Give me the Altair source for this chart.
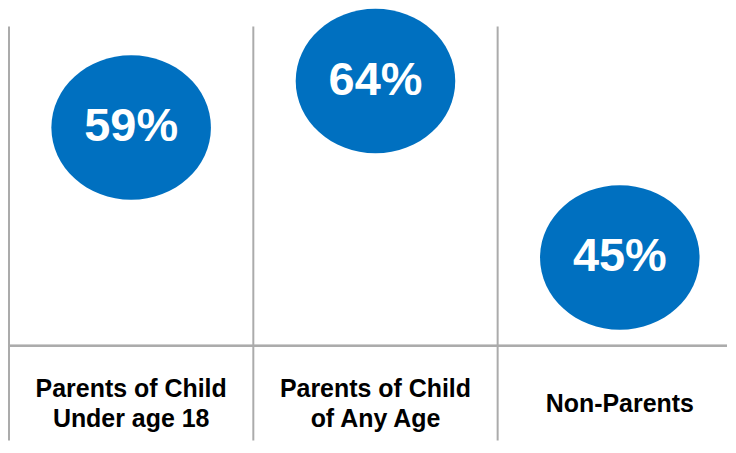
import altair as alt
import pandas as pd

categories = ["Parents of Child\nUnder age 18", "Parents of Child\nof Any Age", "Non-Parents"]
values = [59, 64, 45]
labels = ["59%", "64%", "45%"]

W, H = 720, 432
COL = 245.0

df = pd.DataFrame({
    "cat": categories,
    "value": values,
    "label": labels,
    "center": [i + 0.5 for i in range(len(categories))],
    "edge": [float(i) for i in range(len(categories))],
    "multi": ["\n" in c for c in categories],
})

xs = alt.Scale(domain=[0, W / COL], range=[0, W])
ys = alt.Scale(domain=[25.3, 71.7], range=[H, 0])

base = alt.Chart(df)

vlines = base.mark_rule(color="#ABABAB", strokeWidth=2).encode(
    x=alt.X("edge:Q", scale=xs, axis=None),
    y=alt.value(17),
    y2=alt.value(H),
)

hline = base.mark_rule(color="#ABABAB", strokeWidth=2).encode(
    x=alt.value(0), x2=alt.value(W), y=alt.value(337)
)

ellipse = "M -1 0 A 1 0.906 0 1 1 1 0 A 1 0.906 0 1 1 -1 0 Z"
bubbles = base.mark_point(shape=ellipse, filled=True, color="#0070C0", opacity=1, size=25600).encode(
    x=alt.X("center:Q", scale=xs, axis=None),
    y=alt.Y("value:Q", scale=ys, axis=None),
)

pct = base.mark_text(color="white", font="Liberation Sans", fontWeight="bold",
                     fontSize=47, baseline="middle", align="center").encode(
    x=alt.X("center:Q", scale=xs, axis=None),
    y=alt.Y("value:Q", scale=ys, axis=None),
    text="label:N",
)

text_style = dict(color="black", font="Liberation Sans", fontWeight="bold",
                  fontSize=25, lineBreak="\n", lineHeight=31,
                  baseline="middle", align="center")

cat_multi = base.transform_filter("datum.multi").mark_text(**text_style).encode(
    x=alt.X("center:Q", scale=xs, axis=None),
    y=alt.value(380),
    text="cat:N",
)
cat_single = base.transform_filter("!datum.multi").mark_text(**text_style).encode(
    x=alt.X("center:Q", scale=xs, axis=None),
    y=alt.value(396),
    text="cat:N",
)

chart = alt.layer(vlines, hline, bubbles, pct, cat_multi, cat_single).properties(
    width=W, height=H, padding=0
).configure_view(strokeWidth=0)

chart.save("out.html", embed_options={"renderer": "svg", "actions": False})
